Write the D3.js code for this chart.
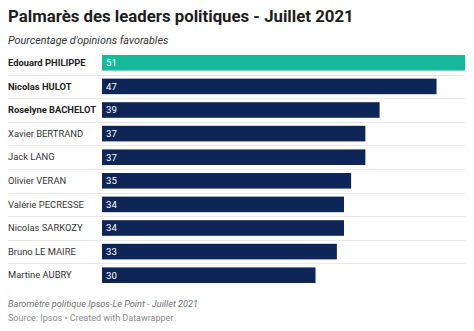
<!DOCTYPE html>
<head>
	<meta charset="utf-8">
	<script src="https://d3js.org/d3.v7.min.js"></script>
	<style>
		body {
			margin: 0;
			background: #fff;
			font-family: Roboto, "Noto Sans", sans-serif;
		}
		.title { font-size: 16.8px; font-weight: 700; fill: #1d1d1d; }
		.subtitle { font-size: 10.8px; font-style: italic; fill: #333; }
		.name { font-size: 9.4px; fill: #333; }
		.name.bold { font-weight: 700; fill: #1d1d1d; }
		.value { font-size: 9.6px; fill: #fff; }
		.notes { font-size: 9.2px; font-style: italic; fill: #707070; }
		.source { font-size: 9px; fill: #8a8a8a; }
		.sep { stroke: #e8e8e8; stroke-width: 1; }
	</style>
</head>
<body>
	<script>
		// data
		var names = ["Edouard PHILIPPE", "Nicolas HULOT", "Roselyne BACHELOT", "Xavier BERTRAND", "Jack LANG",
			"Olivier VERAN", "Valérie PECRESSE", "Nicolas SARKOZY", "Bruno LE MAIRE", "Martine AUBRY"];
		var values = [51, 47, 39, 37, 37, 35, 34, 34, 33, 30];
		var boldNames = ["Edouard PHILIPPE", "Nicolas HULOT", "Roselyne BACHELOT"];
		var highlight = "Edouard PHILIPPE";

		var width = 474;
		var height = 331;
		var margin = { top: 51, left: 102, right: 9 };
		var rowH = 23.6;

		var svg = d3.select("body")
			.append("svg")
			.attr("width", width)
			.attr("height", height);

		// scales
		var xScale = d3.scaleLinear()
			.domain([0, 51])
			.range([margin.left, width - margin.right]);

		var yScale = d3.scaleBand()
			.domain(names)
			.range([margin.top, margin.top + rowH * names.length])
			.paddingInner(0.34)
			.paddingOuter(0.17);

		// titles
		svg.append("text")
			.attr("class", "title")
			.attr("x", 8)
			.attr("y", 22)
			.text("Palmarès des leaders politiques - Juillet 2021");
		svg.append("text")
			.attr("class", "subtitle")
			.attr("x", 8)
			.attr("y", 44)
			.text("Pourcentage d'opinions favorables");

		// separators
		svg.selectAll(".sep")
			.data(names.slice(0, -1))
			.enter()
			.append("line")
			.attr("class", "sep")
			.attr("x1", 8)
			.attr("x2", width - margin.right)
			.attr("y1", function(d) { return Math.round(yScale(d) + yScale.bandwidth() + yScale.step() * 0.17) + 0.5 })
			.attr("y2", function(d) { return Math.round(yScale(d) + yScale.bandwidth() + yScale.step() * 0.17) + 0.5 });

		// bars
		svg.selectAll(".bar")
			.data(names)
			.enter()
			.append("rect")
			.attr("class", "bar")
			.attr("x", xScale(0))
			.attr("y", function(d) { return yScale(d) })
			.attr("width", function(d, i) { return xScale(values[i]) - xScale(0) })
			.attr("height", yScale.bandwidth())
			.attr("fill", function(d) { return d === highlight ? "#17b99b" : "#0d2557" });

		// labels
		svg.selectAll(".name")
			.data(names)
			.enter()
			.append("text")
			.attr("class", function(d) { return boldNames.indexOf(d) >= 0 ? "name bold" : "name" })
			.attr("x", 8)
			.attr("y", function(d) { return yScale(d) + yScale.bandwidth() / 2 })
			.attr("dy", "0.35em")
			.text(function(d) { return d });

		svg.selectAll(".value")
			.data(names)
			.enter()
			.append("text")
			.attr("class", "value")
			.attr("x", xScale(0) + 4)
			.attr("y", function(d) { return yScale(d) + yScale.bandwidth() / 2 })
			.attr("dy", "0.35em")
			.text(function(d, i) { return values[i] });

		// footer
		svg.append("text")
			.attr("class", "notes")
			.attr("x", 8)
			.attr("y", 307)
			.text("Baromètre politique Ipsos-Le Point - Juillet 2021");
		svg.append("text")
			.attr("class", "source")
			.attr("x", 8)
			.attr("y", 321)
			.text("Source: Ipsos • Created with Datawrapper");
	</script>
</body>
</html>
